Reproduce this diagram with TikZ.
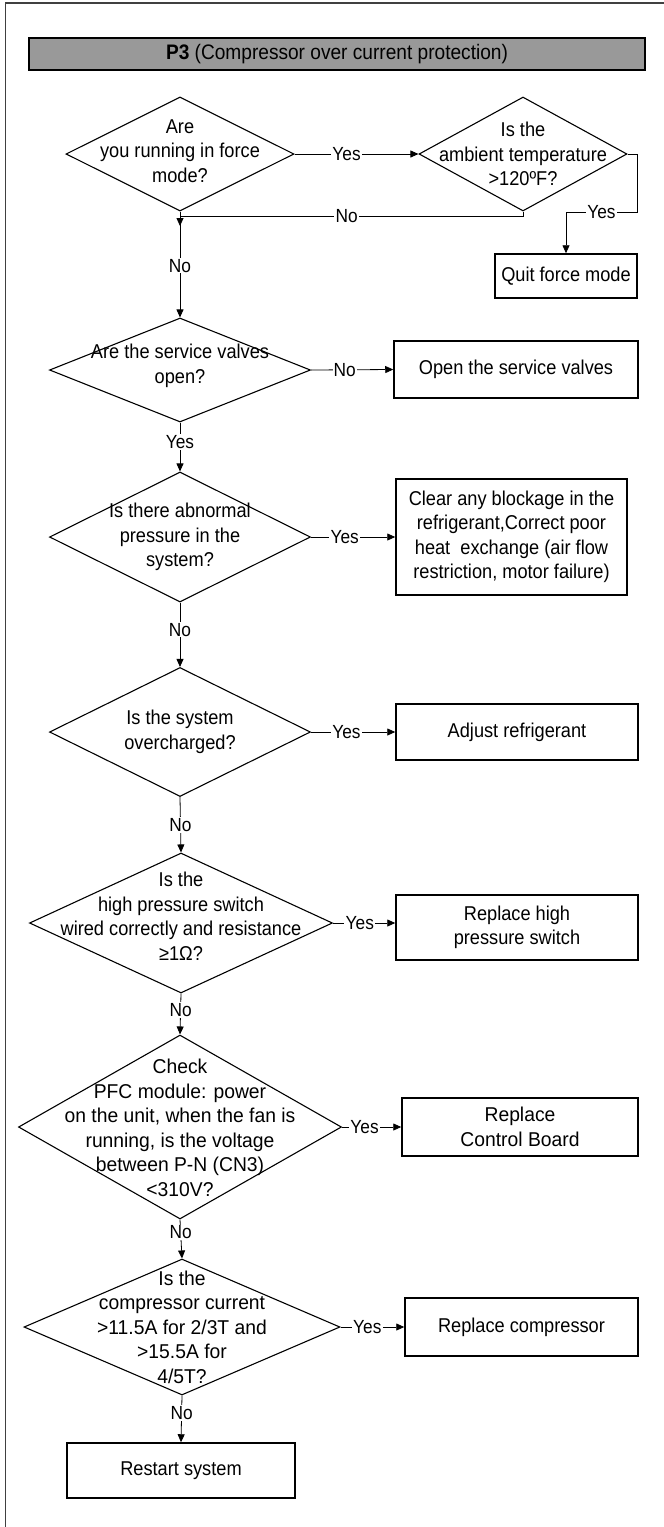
\documentclass[tikz,border=0pt]{standalone}
\usepackage{fontspec}
\setmainfont[FakeStretch=0.91]{Liberation Sans}
\newfontfamily\widefont[FakeStretch=0.965]{Liberation Sans}
\usetikzlibrary{shapes.geometric,arrows.meta}
\begin{document}
\begin{tikzpicture}[x=1pt,y=-1pt,
  txt/.style={font=\fontsize{20}{24.5}\selectfont, align=center, inner sep=0pt},
  wtxt/.style={font=\widefont\fontsize{20}{24.5}\selectfont, align=center, inner sep=0pt},
  dia/.style={diamond, draw, line width=1.1pt, inner sep=0pt},
  box/.style={rectangle, draw, line width=1.5pt, inner sep=0pt, align=center, font=\fontsize{20}{24.5}\selectfont},
  conn/.style={line width=0.8pt, -{Triangle[length=8pt,width=7pt]}},
  plain/.style={line width=0.8pt},
  lab/.style={fill=white, inner sep=1.2pt, font=\fontsize{19}{20}\selectfont}]
\useasboundingbox (0,0) rectangle (664,1527);
% outer frame
\draw[line width=1.1pt, black!75] (5.5,1540) -- (5.5,3) -- (680,3);
% title
\node[rectangle, draw, line width=1.1pt, fill=black!40, minimum width=616pt, minimum height=32pt, inner sep=0pt,
  font=\fontsize{21}{22}\selectfont] (title) at (337,54) {\textbf{P3} (Compressor over current protection)};

% diamonds
\node[dia, minimum width=228pt, minimum height=114pt] (d1) at (180,154) {};
\node[txt] at (180,151) {Are\\you running in force\\mode?};
\node[dia, minimum width=208pt, minimum height=114pt] (d2) at (523,154) {};
\node[txt] at (523,154) {Is the\\ambient temperature\\>120ºF?};
\node[dia, minimum width=261pt, minimum height=104pt] (d3) at (180,370) {};
\node[txt] at (180,366) {Are the service valves\\open?};
\node[dia, minimum width=261pt, minimum height=130pt] (d4) at (180,537) {};
\node[txt] at (180,537) {Is there abnormal\\pressure in the\\system?};
\node[dia, minimum width=261pt, minimum height=129pt] (d5) at (180,732) {};
\node[txt] at (180,732) {Is the system\\overcharged?};
\node[dia, minimum width=303pt, minimum height=140pt] (d6) at (181,923) {};
\node[txt] at (181,916) {Is the\\high pressure switch\\wired correctly and resistance\\≥1Ω?};
\node[dia, minimum width=323pt, minimum height=184pt] (d7) at (180,1127) {};
\node[wtxt] at (180,1128) {Check\\PFC module: power\\on the unit, when the fan is\\running, is the voltage\\between P-N (CN3)\\<310V?};
\node[dia, minimum width=316pt, minimum height=136pt] (d8) at (182,1327) {};
\node[wtxt] at (182,1327) {Is the\\compressor current\\>11.5A for 2/3T and\\>15.5A for\\4/5T?};

% boxes
\node[box, minimum width=142pt, minimum height=44pt] (b1) at (566,276) {Quit force mode};
\node[box, minimum width=244pt, minimum height=57pt] (b2) at (516,369.5) {Open the service valves};
\node[box, minimum width=231pt, minimum height=116pt] (b3) at (511.5,537) {Clear any blockage in the\\refrigerant,Correct poor\\heat\ \ exchange (air flow\\restriction, motor failure)};
\node[box, minimum width=242pt, minimum height=56pt] (b4) at (517,732) {Adjust refrigerant};
\node[box, minimum width=242pt, minimum height=65pt] (b5) at (517,927.5) {Replace high\\pressure switch};
\node[box, minimum width=236pt, minimum height=58pt, font=\widefont\fontsize{20}{24.5}\selectfont] (b6) at (520,1127) {Replace\\Control Board};
\node[box, minimum width=233pt, minimum height=58pt] (b7) at (521.5,1327) {Replace compressor};
\node[box, minimum width=228pt, minimum height=55pt] (b8) at (181,1470.5) {Restart system};

% helper coordinates
\coordinate (c1) at (637,212);
\coordinate (j1) at (180,216);
\coordinate (j2) at (180,226);

% connectors
\draw[conn] (d1.east) -- node[lab, pos=0.42]{Yes} (d2.west);
\draw[conn] (d2.east) -| (c1) -- node[lab, pos=0.5]{Yes} (c1 -| b1.north) -- (b1.north);
\draw[plain] (d2.south) |- node[lab, pos=0.757]{No} (j1);
\draw[conn] (j1) -- (j2);
\draw[conn] (d1.south) -- node[lab, pos=0.51]{No} (d3.north);
\draw[conn] (d3.east) -- node[lab, pos=0.41]{No} (b2.west);
\draw[conn] (d3.south) -- node[lab, pos=0.4]{Yes} (d4.north);
\draw[conn] (d4.east) -- node[lab, pos=0.4]{Yes} (b3.west);
\draw[conn] (d4.south) -- node[lab, pos=0.42]{No} (d5.north);
\draw[conn] (d5.east) -- node[lab, pos=0.42]{Yes} (b4.west);
\draw[conn] (d5.south) -- node[lab, pos=0.5]{No} (d6.north);
\draw[conn] (d6.east) -- node[lab, pos=0.43]{Yes} (d6.east -| b5.west);
\draw[conn] (d6.south) -- node[lab, pos=0.4]{No} (d7.north);
\draw[conn] (d7.east) -- node[lab, pos=0.38]{Yes} (b6.west);
\draw[conn] (d7.south) -- node[lab, pos=0.33]{No} (d8.north);
\draw[conn] (d8.east) -- node[lab, pos=0.42]{Yes} (b7.west);
\draw[conn] (d8.south) -- node[lab, pos=0.38]{No} (b8.north);
\end{tikzpicture}
\end{document}
